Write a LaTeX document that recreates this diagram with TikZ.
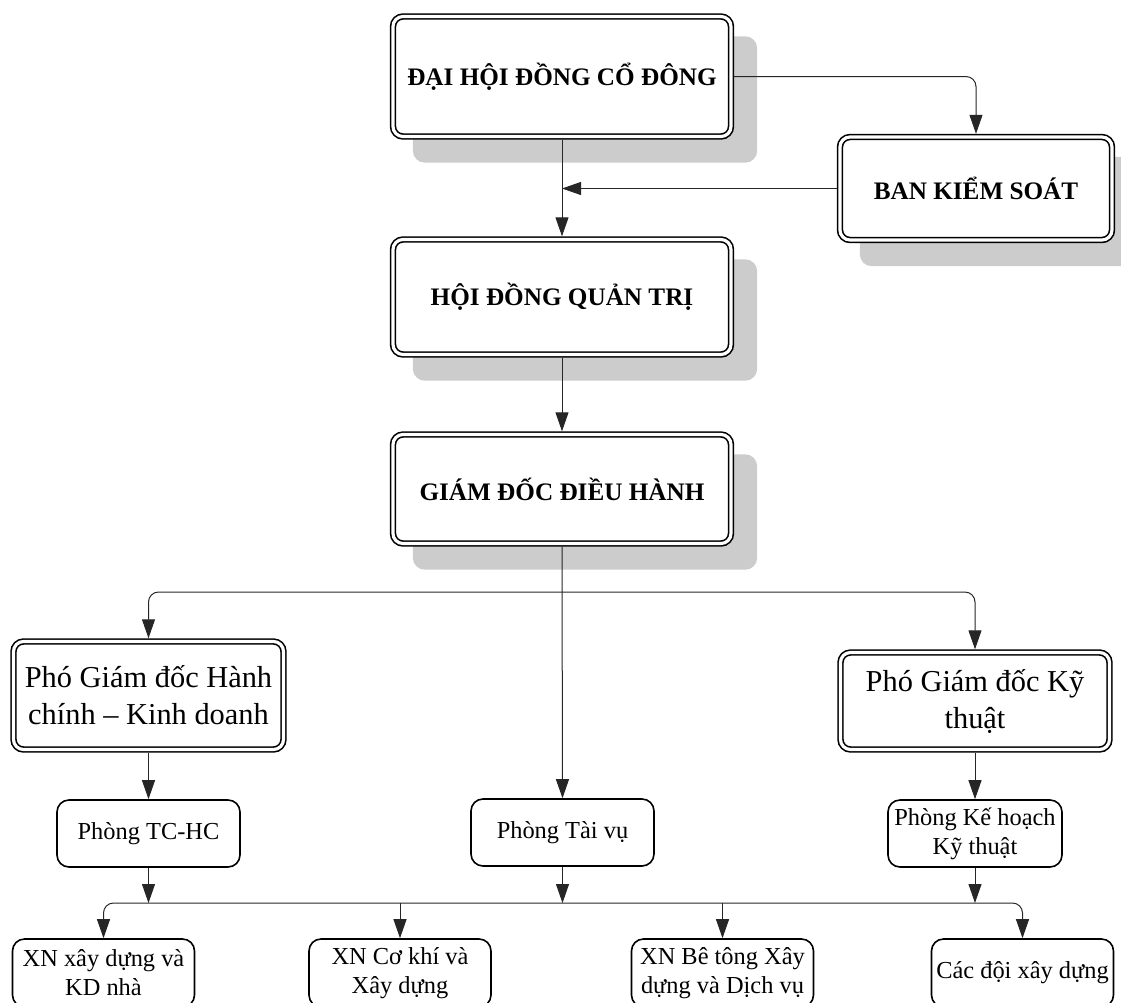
\documentclass[tikz,border=0pt]{standalone}
\usepackage{fontspec}
\setmainfont{Liberation Serif}
\usetikzlibrary{arrows.meta,calc,backgrounds}
\begin{document}
\begin{tikzpicture}[x=0.5pt,y=-0.5pt,
  bigbox/.style={draw, double, line width=0.8pt, double distance=1.6pt, rounded corners=5pt,
    fill=white, inner sep=0pt, outer sep=1.6pt, align=center,
    font=\fontsize{12.6pt}{15pt}\selectfont\bfseries},
  pgdbox/.style={bigbox, font=\fontsize{15.2pt}{18.5pt}\selectfont},
  smallbox/.style={draw, line width=0.8pt, rounded corners=6pt, fill=white, inner sep=0pt,
    outer sep=0.4pt, align=center, font=\fontsize{12.2pt}{14.5pt}\selectfont},
  conn/.style={draw=black!85, line width=0.5pt},
  arr/.style={conn, -{Triangle[length=9.5pt,width=6.5pt]}},
  shadowfill/.style={fill=black!20, rounded corners=6pt}
]
\path[use as bounding box, clip] (0,0) rectangle (1121,1003);

% top boxes
\node[bigbox, minimum width=169pt, minimum height=60pt] (dh) at (562,76.5) {ĐẠI HỘI ĐỒNG CỔ ĐÔNG};
\node[bigbox, minimum width=136pt, minimum height=51.5pt] (bks) at (976,188.5) {BAN KIỂM SOÁT};
\node[bigbox, minimum width=169pt, minimum height=57.5pt] (hd) at (562,297) {HỘI ĐỒNG QUẢN TRỊ};
\node[bigbox, minimum width=169pt, minimum height=54.5pt] (gd) at (562,489) {GIÁM ĐỐC ĐIỀU HÀNH};

% deputy directors
\node[pgdbox, minimum width=135pt, minimum height=54pt] (hc) at (148.5,695.5) {Phó Giám đốc Hành\\chính – Kinh doanh};
\node[pgdbox, minimum width=134.5pt, minimum height=48.5pt] (kt) at (975,701) {Phó Giám đốc Kỹ\\thuật};

% departments
\node[smallbox, minimum width=91.5pt, minimum height=33.5pt] (tchc) at (148.5,833.5) {Phòng TC-HC};
\node[smallbox, minimum width=91.5pt, minimum height=33.5pt] (tv) at (562.5,832.5) {Phòng Tài vụ};
\node[smallbox, minimum width=87pt, minimum height=33.5pt] (kh) at (975,833.5) {Phòng Kế hoạch\\Kỹ thuật};

% enterprises
\node[smallbox, minimum width=91pt, minimum height=34pt] (xn1) at (103.5,973) {XN xây dựng và\\KD nhà};
\node[smallbox, minimum width=91pt, minimum height=34pt] (xn2) at (400,973) {XN Cơ khí và\\Xây dựng};
\node[smallbox, minimum width=91pt, minimum height=34pt] (xn3) at (722.5,973) {XN Bê tông Xây\\dựng và Dịch vụ};
\node[smallbox, minimum width=91pt, minimum height=34pt] (xn4) at (1022.5,973) {Các đội xây dựng};

% shadows
\begin{scope}[on background layer]
\foreach \n in {dh,bks,hd,gd}
  \fill[shadowfill] ($(\n.north west)+(23,23)$) rectangle ($(\n.south east)+(23,23)$);
\end{scope}

% junctions
\coordinate (j1) at (562,592);
\coordinate (j2) at (562,903);

% connectors
\draw[arr] (dh.south) -- (hd.north);
\draw[arr] (hd.south) -- (gd.north);
\draw[arr] (gd.south) -- (tv.north);
\draw[arr, rounded corners=5pt] (dh.east) -| (bks.north);
\draw[arr] (bks.west) -- (bks.west -| dh.south);
\draw[arr, rounded corners=5pt] (j1) -| (hc.north);
\draw[arr, rounded corners=5pt] (j1) -| (kt.north);
\draw[arr] (hc.south) -- (tchc.north);
\draw[arr] (kt.south) -- (kh.north);
\draw[arr] (tchc.south) -- (tchc.south |- j2);
\draw[arr] (tv.south) -- (tv.south |- j2);
\draw[arr] (kh.south) -- (kh.south |- j2);
\draw[arr, rounded corners=5pt] (j2) -| (xn1.north);
\draw[arr, rounded corners=5pt] (j2) -| (xn4.north);
\draw[arr] (xn2.north |- j2) -- (xn2.north);
\draw[arr] (xn3.north |- j2) -- (xn3.north);
\end{tikzpicture}
\end{document}
